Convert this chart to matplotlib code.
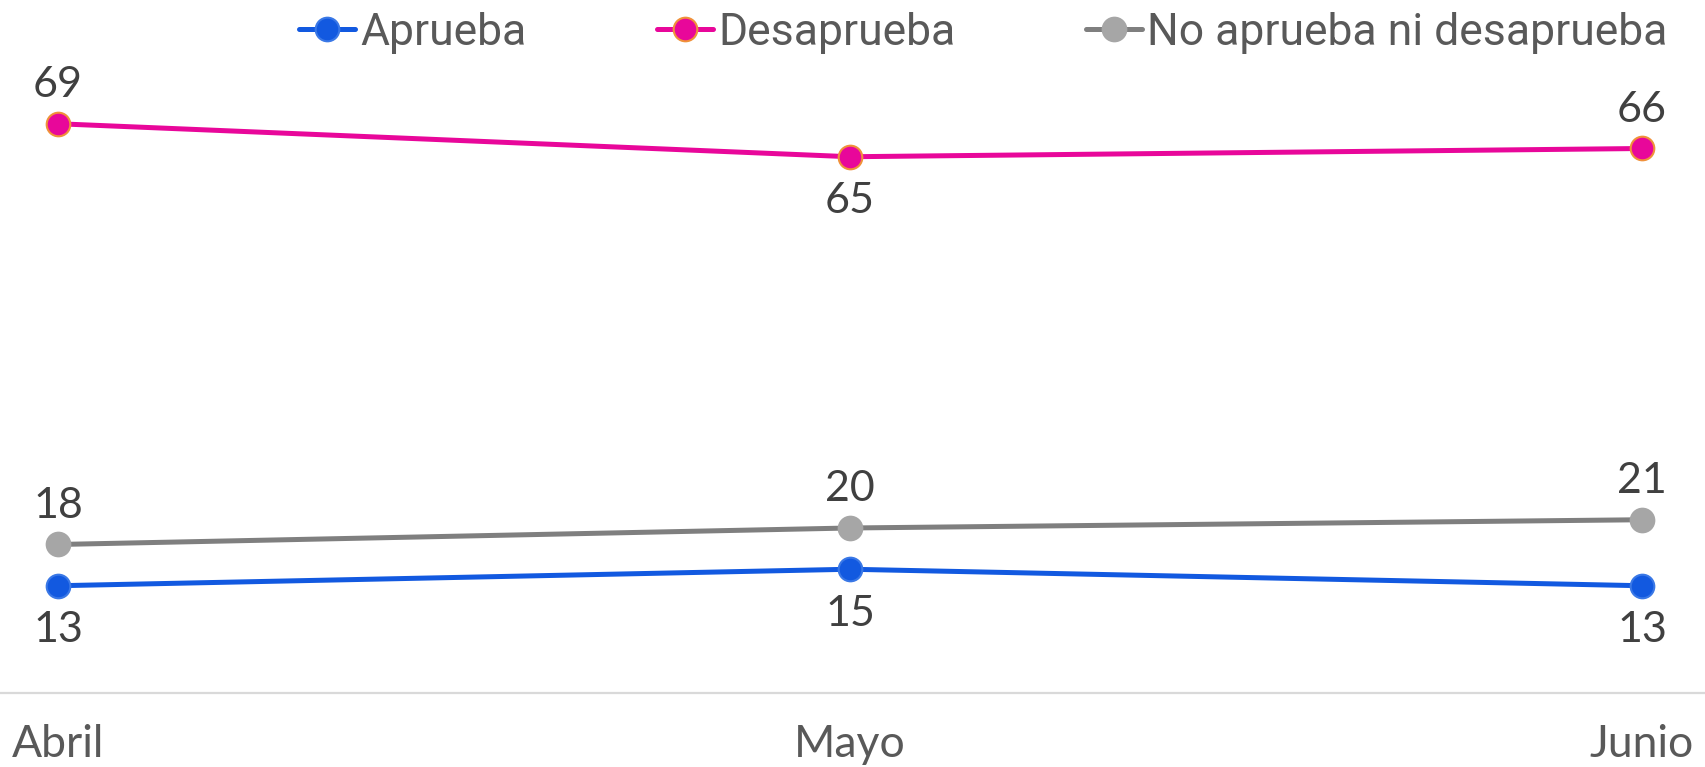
import numpy as np
import matplotlib.pyplot as plt

months = ["Abril", "Mayo", "Junio"]
aprueba = [13, 15, 13]
desaprueba = [69, 65, 66]
ninguno = [18, 20, 21]

fig = plt.figure(figsize=(17.06, 7.67), dpi=100)
ax = fig.add_axes([0, 0.0965, 1, 0.9035])

x = np.arange(len(months))

# series: values, color, marker face, marker edge, label side
series = [
    ("Aprueba", aprueba, "#1259e0", "#1259e0", "#3a78e6", -1),
    ("Desaprueba", desaprueba, "#e8079a", "#e8079a", "#f0913a", None),
    ("No aprueba ni desaprueba", ninguno, "#7f7f7f", "#a6a6a6", "#a6a6a6", 1),
]

for name, vals, col, face, edge, side in series:
    ax.plot(x, vals, color=col, lw=3.6, marker="o", ms=17,
            mfc=face, mec=edge, mew=1.5, label=name, solid_capstyle="round")
    for i, v in enumerate(vals):
        if side is None:
            s = 1 if i != 1 else -1
        else:
            s = side
        off = 28 if s > 0 else 32
        ax.annotate(str(v), (x[i], v), xytext=(0, off * s), textcoords="offset points",
                    ha="center", va="center", fontsize=31, color="#404040",
                    family="Lato")

ax.set_xlim(-58 / 792, 2 + 64 / 792)
ax.set_ylim(0, 84)
ax.set_yticks([])
ax.set_xticks(x)
ax.set_xticklabels(months, fontsize=32, color="#595959", family="Lato")
ax.tick_params(axis="x", length=0, pad=22)

for sp in ["top", "right", "left"]:
    ax.spines[sp].set_visible(False)
ax.spines["bottom"].set_color("#d9d9d9")
ax.spines["bottom"].set_linewidth(1.6)

leg = fig.legend(loc="upper right", bbox_to_anchor=(0.988, 1.008), ncol=3, frameon=False,
                 handlelength=1.25, handletextpad=0.12, columnspacing=2.95,
                 borderaxespad=0, prop={"family": "Roboto", "size": 32})
for t in leg.get_texts():
    t.set_color("#595959")

fig.savefig("out.png", dpi=100)
